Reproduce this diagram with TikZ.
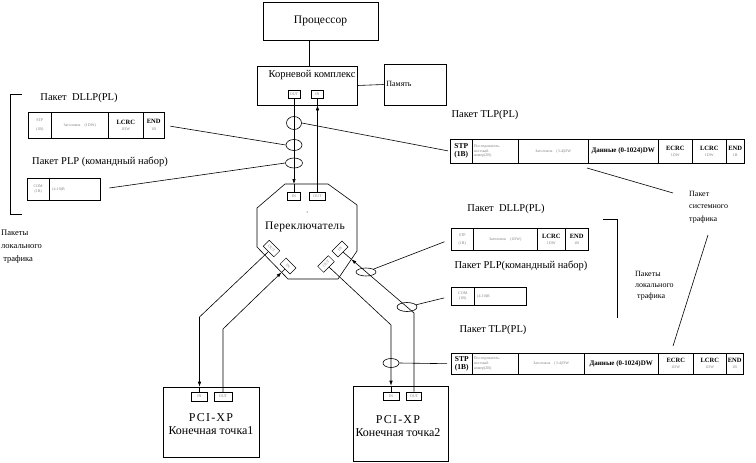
\documentclass[tikz,border=0pt]{standalone}
\usepackage{fontspec}
\setmainfont{Liberation Serif}
\usetikzlibrary{shapes.geometric,arrows.meta}
\definecolor{lgray}{gray}{0.5}
\newcommand\blk[1]{{\fontsize{6.5}{7}\selectfont\bfseries #1}}
\newcommand\gry[1]{{\color{lgray}\fontsize{4}{4.8}\selectfont #1}}
\newcommand\pcell[7][]{\node[cell,minimum width=#5pt,minimum height=#6pt,#1] (#2) at (#3,#4) {#7};}
\tikzset{
  box/.style={draw, line width=0.6pt, inner sep=0pt},
  port/.style={draw, line width=0.5pt, inner sep=0pt, minimum width=13pt, minimum height=8.5pt,
               font=\fontsize{4}{4.5}\selectfont, text=lgray},
  cell/.style={draw, line width=0.5pt, inner sep=1pt, anchor=north west, align=center,
               font=\fontsize{4}{4.8}\selectfont},
  bcell/.style={font=\fontsize{7.5}{8}\selectfont\bfseries},
  gcell/.style={text=lgray},
  lbl/.style={font=\fontsize{10.5}{12}\selectfont, inner sep=0pt},
  slbl/.style={font=\fontsize{8}{12}\selectfont, inner sep=0pt, align=left, anchor=north west},
  ell/.style={draw, ellipse, line width=0.6pt, inner sep=0pt},
  arr/.style={-{Latex[length=5pt,width=3.5pt]}},
  wire/.style={line width=0.6pt},
}
\begin{document}
\begin{tikzpicture}[x=1pt,y=-1pt]
\useasboundingbox (0,0) rectangle (756,463);
% processor, root complex, memory
\node[box, minimum width=115pt, minimum height=38pt, font=\fontsize{11.5}{13}\selectfont] (proc) at (320.5,21) {Процессор};
\node[box, minimum width=100pt, minimum height=39pt] (rc) at (307,85.5) {};
\node[lbl] (rclbl) at (312,75) {Корневой комплекс};
\node[port, minimum width=12pt] (rcout) at (294,94) {OUT};
\node[port, minimum width=12pt] (rcin) at (317.5,94) {IN};
\node[box, minimum width=62pt, minimum height=41pt] (mem) at (415,84.5) {};
\node[inner sep=0pt, font=\fontsize{8}{9}\selectfont] (memlbl) at (399,84) {Память};
\draw[wire] ([xshift=2pt]rc.north) -- ([xshift=2pt]rc.north |- proc.south);
\draw[wire] (rc.east) -- (mem.west);

% switch
\coordinate (o1) at (285,184); \coordinate (o2) at (328,184);
\coordinate (o3) at (357,205); \coordinate (o4) at (357,251);
\coordinate (o5) at (338,279); \coordinate (o6) at (288,279);
\coordinate (o7) at (257,247); \coordinate (o8) at (257,208);
\draw[wire] (o1) -- (o2) -- (o3) -- (o4) -- (o5) -- (o6) -- (o7) -- (o8) -- cycle;
\node[inner sep=0pt, font=\fontsize{11.5}{13}\selectfont\addfontfeature{LetterSpace=3}] (swlbl) at (305,227) {Переключатель};
\fill (307,212) circle (0.5pt);
\node[port] (swin) at (294,196) {IN};
\node[port, minimum width=16pt] (swout) at (317.5,196) {OUT};
\node[port, rotate=-45, minimum width=15pt] (swoutL) at (271.5,248.5) {OUT};
\node[port, rotate=-45, minimum width=14pt] (swinL) at (288,266) {IN};
\node[port, rotate=45, minimum width=15pt] (swoutR) at (326,264) {OUT};
\node[port, rotate=45, minimum width=14pt] (swinR) at (340,249) {IN};

% end points
\node[box, minimum width=96pt, minimum height=70pt] (ep1) at (211,422) {};
\node[port, minimum width=16pt] (ep1in) at (199.5,396.5) {IN};
\node[port, minimum width=18pt] (ep1out) at (223,396.5) {OUT};
\node[inner sep=0pt, font=\fontsize{12}{12.5}\selectfont, align=center] (ep1lbl) at (211,424) {{\addfontfeature{LetterSpace=10}PCI-XP}\\Конечная точка1};
\node[box, minimum width=95pt, minimum height=75pt] (ep2) at (400.5,423.5) {};
\node[port, minimum width=16pt] (ep2in) at (391,396) {IN};
\node[port, minimum width=15pt] (ep2out) at (414,396) {OUT};
\node[inner sep=0pt, font=\fontsize{12}{13.5}\selectfont, align=center] (ep2lbl) at (398,426) {{\addfontfeature{LetterSpace=10}PCI-XP}\\Конечная точка2};

% links
\coordinate (k1) at (199.5,317);
\coordinate (k2) at (223,329);
\coordinate (k3) at (391,325);
\coordinate (k4) at (414,313);
\coordinate (oe1) at (281.5,272.4);
\coordinate (oe2) at (351.4,259.3);
\draw[wire,arr] (rcout.south) -- (rcout.south |- o1);
\draw[wire] (rcout.south |- o1) -- (swin.north);
\draw[wire,arr] (swout.north) -- (swout.north |- rc.south);
\draw[wire] (swout.north |- rc.south) -- (rcin.south);
\draw[wire,arr] (swoutL.south) -- (k1) -- (k1 |- ep1.north);
\draw[wire] (k1 |- ep1.north) -- (ep1in.north);
\draw[wire,arr] (ep1out.north) -- (k2) -- (oe1);
\draw[wire] (oe1) -- (swinL.south);
\draw[wire,arr] (swoutR.south) -- (k3) -- (k3 |- ep2.north);
\draw[wire] (k3 |- ep2.north) -- (ep2in.north);
\draw[wire,arr] (ep2out.north) -- (k4) -- (oe2);
\draw[wire] (oe2) -- (swinR.south);

% ellipses
\node[ell, minimum width=15pt, minimum height=13pt] (e1) at (294,123) {};
\node[ell, minimum width=16pt, minimum height=11pt] (e2) at (294,145) {};
\node[ell, minimum width=17pt, minimum height=10pt] (e3) at (294,163) {};
\node[ell, minimum width=20pt, minimum height=8pt] (e4) at (366,272) {};
\node[ell, minimum width=20pt, minimum height=9pt] (e5) at (407,307) {};
\node[ell, minimum width=16pt, minimum height=9pt] (e6) at (391,363) {};

% left packets
\node[lbl] (l1) at (79,98) {Пакет\ \ DLLP(PL)};
\pcell[gcell]{d1a}{28}{112}{23}{26}{STP\\[4pt](1B)}
\pcell[gcell]{d1b}{51}{112}{57}{26}{Заголовок\quad (1DW)}
\pcell{d1c}{108}{112}{35}{26}{\blk{LCRC}\\[1pt]\gry{1DW}}
\pcell{d1d}{143}{112}{21}{26}{\blk{END}\\[2pt]\gry{1B}}
\node[lbl] (l2) at (100,162) {Пакет PLP (командный набор)};
\pcell[gcell]{p1a}{27}{178}{22}{22}{COM\\(1B)}
\pcell[gcell, text width=45pt, align=left, inner xsep=3pt]{p1b}{49}{178}{51}{22}{(4-10)B}
\draw[wire] (22,94) -- (10,94) -- (10,214) -- (22,214);
\node[slbl, font=\fontsize{8.5}{13}\selectfont] (l3) at (1,230) {Пакеты\\локального\\\ трафика};

% top TLP
\node[lbl] (l4) at (485,115) {Пакет TLP(PL)};
\pcell[bcell]{t1a}{450}{139}{22}{24}{STP\\(1B)}
\pcell[gcell, text width=43pt, align=left, inner xsep=1.5pt]{t1b}{472}{139}{46}{24}{Последователь-\\ностный\\номер(2B)}
\pcell[gcell]{t1c}{518}{139}{70}{24}{Заголовок\quad (3-4)DW}
\pcell[bcell, font=\fontsize{7}{8}\selectfont\bfseries]{t1d}{588}{139}{70}{24}{Данные (0-1024)DW}
\pcell{t1e}{658}{139}{34}{24}{\blk{ECRC}\\[1pt]\gry{1DW}}
\pcell{t1f}{692}{139}{34}{24}{\blk{LCRC}\\[1pt]\gry{1DW}}
\pcell{t1g}{726}{139}{18}{24}{\blk{END}\\[1pt]\gry{1B}}

% right DLLP / PLP
\node[lbl] (l5) at (506,209) {Пакет\ \ DLLP(PL)};
\pcell[gcell]{d2a}{451}{228}{22}{22}{STP\\[3pt](1B)}
\pcell[gcell]{d2b}{473}{228}{64}{22}{Заголовок\quad (1DW)}
\pcell{d2c}{537}{228}{28}{22}{\blk{LCRC}\\[1pt]\gry{1DW}}
\pcell{d2d}{565}{228}{23}{22}{\blk{END}\\[1pt]\gry{1B}}
\node[lbl] (l6) at (521,266) {Пакет PLP(командный набор)};
\pcell[gcell]{p2a}{451}{287}{23}{18}{COM\\(1B)}
\pcell[gcell, text width=46pt, align=left, inner xsep=3pt]{p2b}{474}{287}{52}{18}{(4-10)B}
\draw[wire] (603,219) -- (617,219) -- (617,318);
\node[slbl, font=\fontsize{8}{11}\selectfont] (l9) at (635,271) {Пакеты\\локального\\\ трафика};
\node[slbl, font=\fontsize{8}{12.5}\selectfont] (l8) at (689,191) {Пакет\\системного\\трафика};

% bottom TLP
\node[lbl] (l7) at (493,330) {Пакет TLP(PL)};
\pcell[bcell]{t2a}{451}{353}{21}{21}{STP\\(1B)}
\pcell[gcell, text width=43pt, align=left, inner xsep=1.5pt]{t2b}{472}{353}{46}{21}{Последователь-\\ностный\\номер(2B)}
\pcell[gcell]{t2c}{518}{353}{66}{21}{Заголовок\quad (3-4)DW}
\pcell[bcell, font=\fontsize{7}{8}\selectfont\bfseries]{t2d}{584}{353}{74}{21}{Данные (0-1024)DW}
\pcell{t2e}{658}{353}{35}{21}{\blk{ECRC}\\[1pt]\gry{1DW}}
\pcell{t2f}{693}{353}{33}{21}{\blk{LCRC}\\[1pt]\gry{1DW}}
\pcell{t2g}{726}{353}{17}{21}{\blk{END}\\[1pt]\gry{1B}}

% packet pointers
\draw[wire, shorten >=2pt] (e1.east) -- (t1a.west);
\draw[wire, shorten >=6pt] (e2.west) -- (d1d.east);
\draw[wire, shorten >=9pt] (e3.west) -- (p1b.east);
\draw[wire, shorten >=7pt] (e4) -- (d2a.west);
\draw[wire, shorten >=7pt] (e5) -- (p2a.west);
\draw[wire, shorten >=4pt] (e6.east) -- (t2a.west);
\coordinate (c1) at (587,168); \coordinate (c2) at (673,193);
\coordinate (c3) at (708,235); \coordinate (c4) at (673,346);
\draw[wire] (c1) -- (c2);
\draw[wire] (c3) -- (c4);
\end{tikzpicture}
\end{document}
